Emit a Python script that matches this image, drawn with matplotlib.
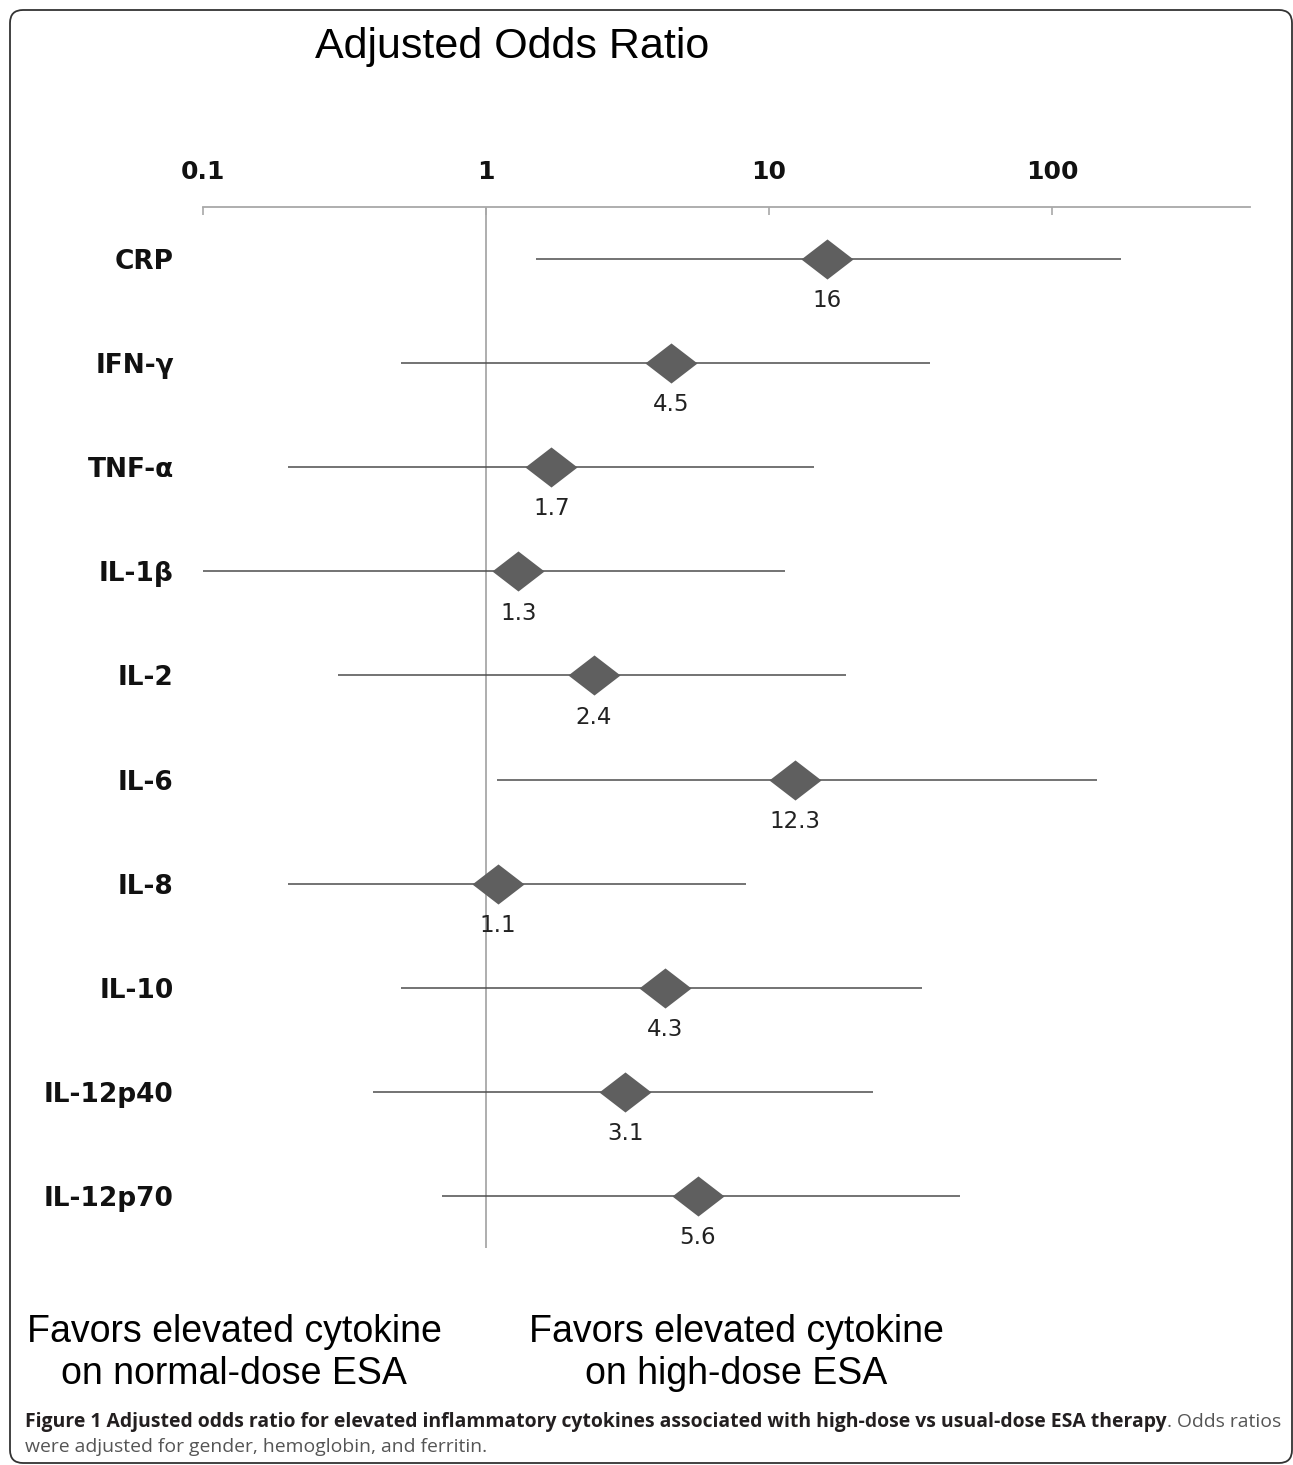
import matplotlib
matplotlib.use('Agg')
import matplotlib.pyplot as plt
from matplotlib.patches import FancyBboxPatch
from matplotlib.path import Path

# ---- data ----
cytokines = ['CRP', 'IFN-γ', 'TNF-α', 'IL-1β', 'IL-2', 'IL-6', 'IL-8', 'IL-10', 'IL-12p40', 'IL-12p70']
odds_ratio = [16, 4.5, 1.7, 1.3, 2.4, 12.3, 1.1, 4.3, 3.1, 5.6]
or_labels = ['16', '4.5', '1.7', '1.3', '2.4', '12.3', '1.1', '4.3', '3.1', '5.6']
ci_low = [1.5, 0.5, 0.2, 0.1, 0.3, 1.09, 0.2, 0.5, 0.4, 0.7]
ci_high = [175, 37, 14.4, 11.4, 18.7, 144, 8.3, 34.7, 23.3, 47.3]
tick_values = [0.1, 1, 10, 100]
tick_labels = ['0.1', '1', '10', '100']

W, H = 1293, 1465
fig = plt.figure(figsize=(W / 100, H / 100), dpi=100)

# border box (pixel -> inches)
border = FancyBboxPatch((10 / 100, (H - 1463) / 100), (1292 - 10) / 100, (1463 - 10) / 100,
                        boxstyle="round,pad=0,rounding_size=0.13",
                        transform=fig.dpi_scale_trans, fill=False,
                        edgecolor='#333333', linewidth=1.3, clip_on=False)
fig.patches.append(border)

# axes placement
x0, x1 = 203, 1250
y0, y1 = 207, 1248
ax = fig.add_axes([x0 / W, 1 - y1 / H, (x1 - x0) / W, (y1 - y0) / H])
ax.set_xscale('log')
ax.set_xlim(0.1, 500)
ax.set_ylim(len(cytokines) - 0.5, -0.5)

gray = '#a8a8a8'
for s in ['left', 'right', 'bottom']:
    ax.spines[s].set_visible(False)
ax.spines['top'].set_color(gray)
ax.spines['top'].set_linewidth(1.3)

ax.xaxis.tick_top()
ax.set_xticks(tick_values)
ax.set_xticklabels(tick_labels)
ax.minorticks_off()
ax.tick_params(axis='x', which='major', direction='in', length=6, width=1.2,
               color=gray, pad=16.5, labelsize=18)
for t in ax.get_xticklabels():
    t.set_fontfamily('DejaVu Sans')
    t.set_fontweight('bold')
    t.set_color('#111111')

ypos = list(range(len(cytokines)))
ax.set_yticks(ypos)
ax.set_yticklabels(cytokines)
ax.tick_params(axis='y', length=0, pad=21, labelsize=19)
for t in ax.get_yticklabels():
    t.set_fontfamily('DejaVu Sans')
    t.set_fontweight('bold')
    t.set_color('#111111')

ax.axvline(1, color=gray, linewidth=1.3, zorder=1)

diamond = Path([(-1, 0), (0, 0.77), (1, 0), (0, -0.77), (-1, 0)],
               [Path.MOVETO, Path.LINETO, Path.LINETO, Path.LINETO, Path.CLOSEPOLY])

for i in ypos:
    ax.plot([ci_low[i], ci_high[i]], [i, i], color='#4d4d4d', linewidth=1.1, zorder=2,
            solid_capstyle='butt')
    ax.plot([odds_ratio[i]], [i], marker=diamond, markersize=37.5, color='#5f5f5f',
            markeredgewidth=0, linestyle='none', zorder=3)
    ax.annotate(or_labels[i], (odds_ratio[i], i), xytext=(0, -30), textcoords='offset points',
                ha='center', va='center', fontsize=16.5, family='DejaVu Sans', color='#222222')

# title
fig.text(512 / W, 1 - 47 / H, 'Adjusted Odds Ratio', ha='center', va='center',
         fontsize=31, family='Liberation Sans', color='#000000')

# bottom annotations
fig.text(234 / W, 1 - 1353 / H, 'Favors elevated cytokine\non normal-dose ESA', ha='center',
         va='center', fontsize=27, family='Liberation Sans', linespacing=1.2, color='#000000')
fig.text(736 / W, 1 - 1353 / H, 'Favors elevated cytokine\non high-dose ESA', ha='center',
         va='center', fontsize=27, family='Liberation Sans', linespacing=1.2, color='#000000')

# caption
bold_txt = ('Figure 1 Adjusted odds ratio for elevated inflammatory cytokines associated '
            'with high-dose vs usual-dose ESA therapy')
reg_txt = '. Odds ratios'
line2 = 'were adjusted for gender, hemoglobin, and ferritin.'

renderer = fig.canvas.get_renderer()
fs = 12.5
tb = fig.text(25 / W, 1 - 1427 / H, bold_txt, ha='left', va='baseline', fontsize=fs,
              family='Open Sans', fontweight='bold', color='#231f20')
tr = fig.text(0, 1 - 1427 / H, reg_txt, ha='left', va='baseline', fontsize=fs,
              family='Open Sans', color='#555555')
wb = tb.get_window_extent(renderer).width
wr = tr.get_window_extent(renderer).width
target = 1278 - 25
scale = target / (wb + wr)
fs2 = fs * scale
tb.set_fontsize(fs2)
tr.set_fontsize(fs2)
wb = tb.get_window_extent(renderer).width
tr.set_x((25 + wb) / W)
fig.text(25 / W, 1 - 1452 / H, line2, ha='left', va='baseline', fontsize=fs2,
         family='Open Sans', color='#555555')

fig.savefig('out.png', dpi=100)
